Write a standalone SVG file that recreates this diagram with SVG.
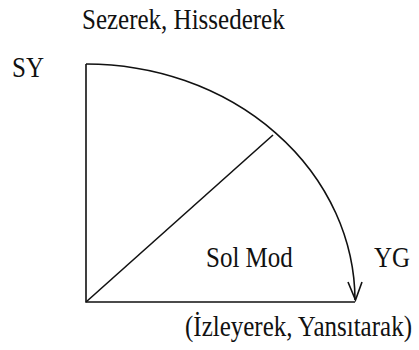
<svg xmlns="http://www.w3.org/2000/svg" width="419" height="350" viewBox="0 0 419 350">
<style>
.t{font-family:"Liberation Serif","Times New Roman","DejaVu Serif",serif;font-size:25px;fill:#111}
.ln{fill:none;stroke:#111;stroke-width:1.6}
</style>
<rect width="419" height="350" fill="#fff"/>
<g id="connectors">
<path class="ln" d="M86,64 V302 H355"/>
<path class="ln" d="M86,302 L273,135"/>
<path class="ln" d="M86,64 A269,237 0 0 1 355,300"/>
<polyline class="ln" points="348,282 355.5,300 362,282"/>
</g>
<g id="top-label"><text class="t" transform="translate(82,29) scale(1,1.2)">Sezerek, Hissederek</text></g>
<g id="SY"><text class="t" transform="translate(12,77) scale(1,1.2)">SY</text></g>
<g id="sol-mod"><text class="t" transform="translate(206,267) scale(1,1.2)">Sol Mod</text></g>
<g id="YG"><text class="t" transform="translate(374,267) scale(1,1.2)">YG</text></g>
<g id="bottom-label"><text class="t" transform="translate(185,336) scale(1,1.2)">(İzleyerek, Yansıtarak)</text></g>
</svg>
